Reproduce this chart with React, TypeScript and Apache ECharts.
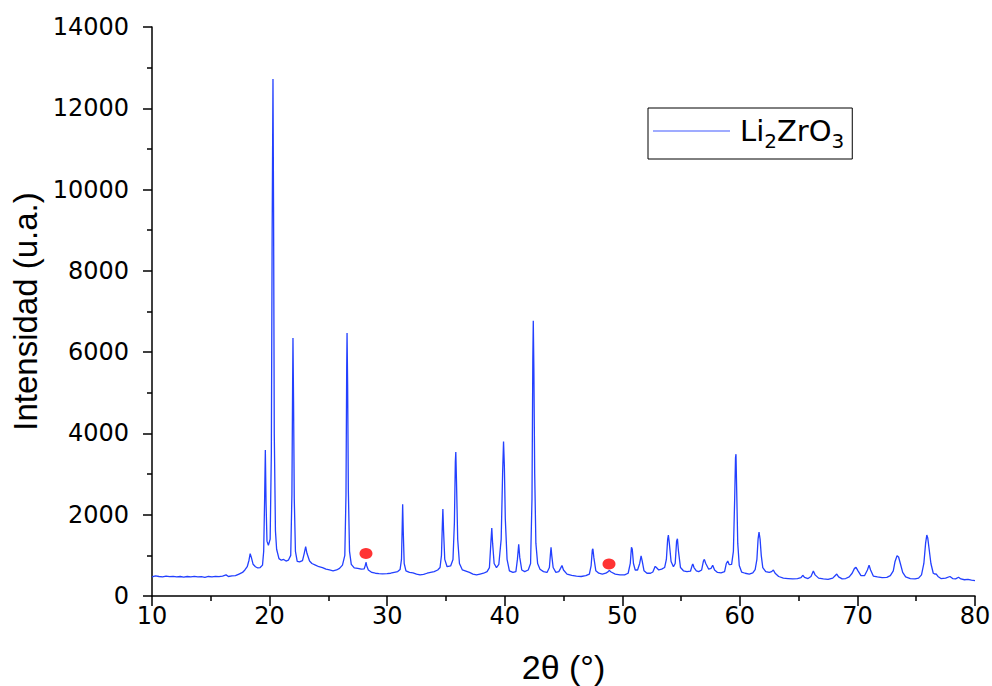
import React, { useEffect, useRef } from "react";
import * as echarts from "echarts";

// 2θ (°) / intensity (u.a.) pairs
const pattern: [number, number][] = [
  [10.0, 470], [10.3, 495], [10.6, 480], [10.9, 470], [11.2, 490], [11.5, 475], [11.8, 485], [12.1, 470],
  [12.4, 480], [12.7, 465], [13.0, 480], [13.3, 470], [13.6, 485], [13.9, 470], [14.2, 475], [14.5, 460],
  [14.8, 480], [15.1, 470], [15.4, 485], [15.7, 475], [16.0, 490], [16.3, 520], [16.5, 480], [16.8, 495],
  [17.1, 500], [17.4, 540], [17.7, 580], [17.9, 640], [18.1, 720], [18.25, 880], [18.35, 1040], [18.45, 950],
  [18.6, 780], [18.8, 720], [19.0, 690], [19.2, 700], [19.4, 760], [19.5, 1100], [19.58, 2400], [19.64, 3590],
  [19.7, 2300], [19.78, 1350], [19.9, 1250], [20.05, 1400], [20.15, 3500], [20.22, 9000], [20.29, 12720],
  [20.34, 9500], [20.4, 4000], [20.5, 1600], [20.6, 1150], [20.8, 920], [21.0, 880], [21.2, 900], [21.4, 860],
  [21.6, 880], [21.8, 1000], [21.9, 2500], [21.96, 5200], [21.99, 6350], [22.04, 4800], [22.1, 2400],
  [22.2, 1100], [22.35, 850], [22.55, 840], [22.8, 870], [22.95, 1050], [23.07, 1215], [23.18, 1050],
  [23.4, 860], [23.6, 800], [23.9, 760], [24.2, 720], [24.5, 700], [24.8, 660], [25.1, 640], [25.4, 620],
  [25.7, 640], [25.95, 680], [26.2, 760], [26.4, 1000], [26.5, 2500], [26.56, 5600], [26.59, 6470],
  [26.64, 5200], [26.7, 2600], [26.8, 1100], [26.95, 780], [27.2, 690], [27.5, 680], [27.8, 660], [28.05, 670],
  [28.15, 760], [28.2, 830], [28.27, 740], [28.4, 640], [28.7, 580], [29.0, 560], [29.3, 550], [29.6, 545],
  [30.0, 550], [30.3, 560], [30.6, 580], [30.9, 600], [31.1, 650], [31.22, 900], [31.28, 1700], [31.32, 2260],
  [31.37, 1600], [31.45, 800], [31.6, 620], [31.9, 580], [32.2, 570], [32.5, 540], [32.8, 520], [33.1, 530],
  [33.4, 560], [33.7, 580], [34.0, 600], [34.3, 640], [34.5, 700], [34.62, 1000], [34.7, 1800], [34.74, 2140],
  [34.8, 1600], [34.9, 900], [35.1, 720], [35.4, 740], [35.6, 900], [35.72, 1800], [35.8, 3300], [35.84, 3545],
  [35.9, 2800], [36.0, 1400], [36.15, 800], [36.4, 640], [36.7, 610], [37.0, 580], [37.3, 540], [37.6, 520],
  [37.9, 540], [38.2, 560], [38.5, 600], [38.7, 700], [38.82, 1300], [38.9, 1670], [38.97, 1300], [39.1, 800],
  [39.3, 700], [39.5, 780], [39.7, 1400], [39.82, 3000], [39.9, 3800], [39.97, 3200], [40.05, 1900], [40.2, 900],
  [40.4, 620], [40.7, 580], [40.95, 600], [41.08, 900], [41.19, 1270], [41.28, 950], [41.45, 640], [41.7, 600],
  [42.0, 640], [42.2, 800], [42.32, 2400], [42.39, 5800], [42.43, 6770], [42.48, 5600], [42.55, 3000],
  [42.65, 1300], [42.8, 800], [43.0, 660], [43.3, 600], [43.6, 580], [43.8, 700], [43.88, 1000], [43.94, 1200],
  [44.0, 1000], [44.12, 700], [44.35, 580], [44.6, 600], [44.75, 680], [44.87, 750], [45.0, 640], [45.3, 540],
  [45.7, 510], [46.1, 490], [46.5, 480], [46.9, 500], [47.2, 540], [47.35, 750], [47.45, 1130], [47.5, 1160],
  [47.58, 950], [47.75, 620], [48.0, 560], [48.3, 540], [48.6, 560], [48.8, 600], [48.9, 625], [49.05, 590],
  [49.4, 540], [49.8, 520], [50.2, 520], [50.5, 560], [50.68, 800], [50.78, 1200], [50.85, 1150], [50.95, 800],
  [51.1, 640], [51.3, 640], [51.48, 800], [51.6, 985], [51.7, 850], [51.85, 620], [52.1, 560], [52.4, 560],
  [52.6, 590], [52.8, 730], [52.9, 700], [53.1, 640], [53.35, 660], [53.6, 700], [53.75, 900], [53.86, 1400],
  [53.92, 1500], [54.0, 1300], [54.15, 850], [54.35, 720], [54.5, 800], [54.62, 1350], [54.69, 1410],
  [54.78, 1100], [54.95, 700], [55.2, 620], [55.5, 600], [55.8, 610], [55.95, 760], [56.0, 787], [56.1, 700],
  [56.3, 620], [56.5, 600], [56.75, 640], [56.9, 860], [56.98, 900], [57.1, 800], [57.35, 660], [57.55, 680],
  [57.69, 755], [57.85, 640], [58.1, 580], [58.4, 570], [58.7, 600], [58.85, 800], [58.97, 860], [59.1, 770],
  [59.3, 780], [59.45, 1100], [59.56, 2400], [59.63, 3400], [59.67, 3490], [59.73, 2600], [59.82, 1300],
  [59.95, 750], [60.15, 590], [60.45, 560], [60.8, 540], [61.1, 570], [61.3, 650], [61.45, 900], [61.55, 1400],
  [61.63, 1575], [61.72, 1400], [61.82, 1000], [61.95, 700], [62.2, 600], [62.5, 580], [62.7, 600], [62.85, 640],
  [63.0, 560], [63.3, 480], [63.7, 440], [64.1, 430], [64.5, 420], [64.9, 430], [65.2, 450], [65.35, 510],
  [65.5, 460], [65.8, 430], [66.05, 480], [66.25, 615], [66.4, 520], [66.7, 440], [67.1, 420], [67.5, 410],
  [67.9, 440], [68.1, 500], [68.24, 540], [68.4, 470], [68.7, 420], [69.0, 430], [69.3, 470], [69.55, 560],
  [69.75, 680], [69.88, 705], [70.05, 620], [70.3, 500], [70.6, 500], [70.85, 640], [70.99, 760], [71.12, 640],
  [71.35, 490], [71.7, 470], [72.1, 450], [72.5, 460], [72.8, 500], [73.05, 620], [73.2, 850], [73.37, 990],
  [73.5, 960], [73.65, 800], [73.85, 580], [74.1, 470], [74.5, 430], [74.9, 420], [75.2, 440], [75.45, 520],
  [75.65, 800], [75.8, 1300], [75.9, 1500], [75.98, 1430], [76.1, 1150], [76.25, 800], [76.45, 560],
  [76.6, 540], [76.69, 545], [76.85, 480], [77.1, 430], [77.5, 440], [77.87, 480], [78.1, 430], [78.35, 420],
  [78.6, 460], [78.8, 420], [79.1, 400], [79.4, 410], [79.7, 390], [80.0, 380],
];

// red marked reflections (secondary phase)
const markers: [number, number][] = [
  [28.2, 1045],
  [48.87, 790],
];

const xTicks = { min: 10, max: 80, interval: 10 };
const yTicks = { min: 0, max: 14000, interval: 2000 };
const seriesName = "Li2ZrO3";

export default function App() {
  const ref = useRef<HTMLDivElement>(null);

  useEffect(() => {
    document.body.style.margin = "0";
    if (!ref.current) return;
    const chart = echarts.init(ref.current, undefined, { renderer: "svg" });
    const axisColor = "#000";
    chart.setOption({
      animation: false,
      backgroundColor: "#fff",
      grid: {
        left: 152,
        right: 17,
        top: 27,
        bottom: 90,
        containLabel: false,
        outerBoundsMode: "none",
      },
      legend: {
        data: [seriesName],
        left: 648,
        top: 108,
        orient: "horizontal",
        icon: "rect",
        itemWidth: 77,
        itemHeight: 1.5,
        itemGap: 0,
        padding: [8, 8, 8, 5],
        borderColor: "#000",
        borderWidth: 1,
        selectedMode: false,
        itemStyle: { color: "#7f8fff" },
        formatter: () => "{a|Li}{s|2}{a|ZrO}{s|3}",
        textStyle: {
          color: "#000",
          padding: [0, 0, 0, 5],
          rich: {
            a: { fontFamily: "DejaVu Sans", fontSize: 29, color: "#000", lineHeight: 30 },
            s: {
              fontFamily: "DejaVu Sans",
              fontSize: 20,
              color: "#000",
              lineHeight: 30,
              padding: [15, 0, 0, 0],
              verticalAlign: "top",
            },
          },
        },
      },
      xAxis: {
        type: "value",
        min: xTicks.min,
        max: xTicks.max,
        interval: xTicks.interval,
        name: "2θ (°)",
        nameLocation: "middle",
        nameGap: 54,
        nameTextStyle: { fontFamily: "Liberation Sans", fontSize: 34, color: "#000" },
        axisLine: { show: true, onZero: false, lineStyle: { color: axisColor, width: 1.5 } },
        axisTick: { show: true, inside: false, length: 10, lineStyle: { color: axisColor, width: 1.5 } },
        minorTick: { show: true, splitNumber: 2, length: 5, lineStyle: { color: axisColor, width: 1.5 } },
        splitLine: { show: false },
        axisLabel: { fontFamily: "DejaVu Sans", fontSize: 24, color: "#000", margin: 8 },
      },
      yAxis: {
        type: "value",
        min: yTicks.min,
        max: yTicks.max,
        interval: yTicks.interval,
        name: "Intensidad (u.a.)",
        nameLocation: "middle",
        nameRotate: 90,
        nameGap: 110,
        nameTextStyle: { fontFamily: "Liberation Sans", fontSize: 33, color: "#000" },
        axisLine: { show: true, onZero: false, lineStyle: { color: axisColor, width: 1.5 } },
        axisTick: { show: true, inside: false, length: 9, lineStyle: { color: axisColor, width: 1.5 } },
        minorTick: { show: true, splitNumber: 2, length: 5, lineStyle: { color: axisColor, width: 1.5 } },
        splitLine: { show: false },
        axisLabel: {
          fontFamily: "DejaVu Sans",
          fontSize: 24,
          color: "#000",
          margin: 23,
          formatter: (v: number) => String(v),
        },
      },
      series: [
        {
          name: seriesName,
          type: "line",
          data: pattern,
          showSymbol: false,
          symbol: "none",
          lineStyle: { color: "#2340ff", width: 1.3 },
          itemStyle: { color: "#2340ff" },
          z: 2,
        },
        {
          name: "marker",
          type: "scatter",
          data: markers,
          symbol: "circle",
          symbolSize: [13, 11],
          itemStyle: { color: "#ff0000" },
          z: 3,
        },
      ],
    });
    return () => chart.dispose();
  }, []);

  return <div ref={ref} style={{ width: 992, height: 686 }} />;
}
